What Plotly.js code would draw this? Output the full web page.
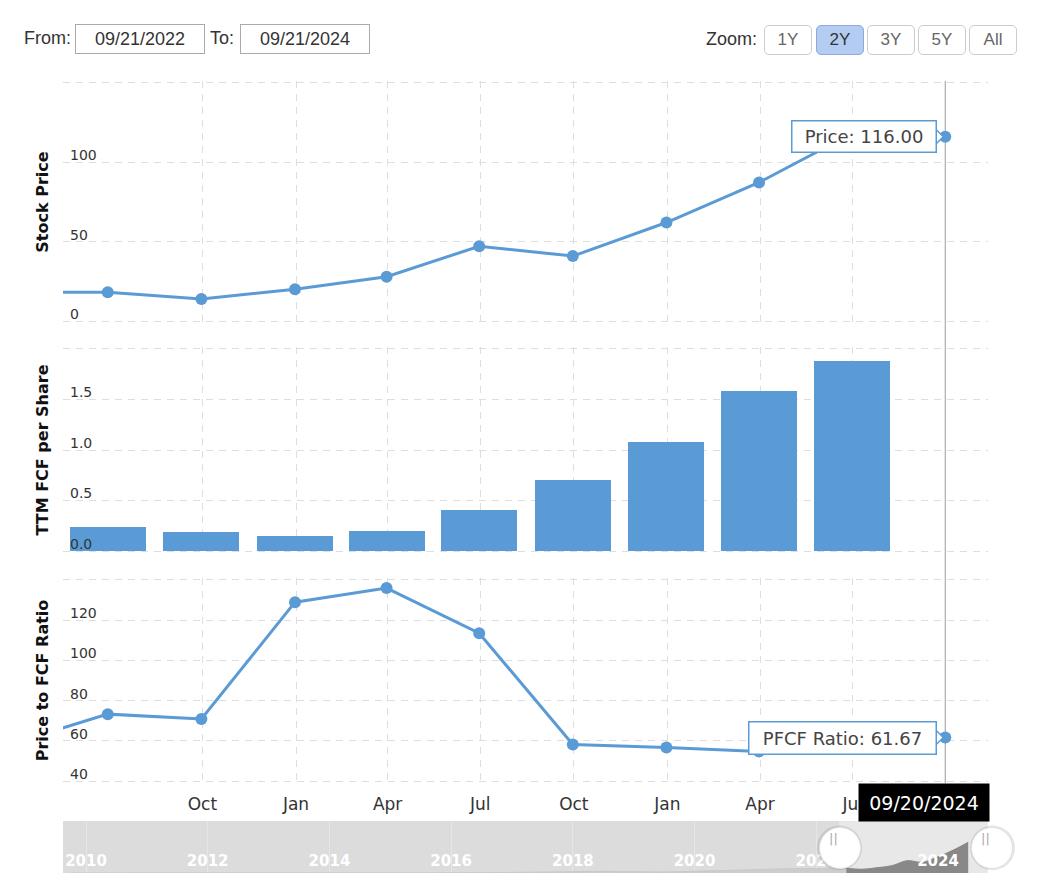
<!DOCTYPE html>
<html>
<head>
<meta charset="utf-8">
<script src="https://cdn.plot.ly/plotly-3.0.1.min.js"></script>
<style>
  body { margin: 0; background: #fff; }
  #wrap { position: relative; width: 1047px; height: 884px; overflow: hidden; font-family: "Liberation Sans", Arial, sans-serif; }
  #chart { position: absolute; left: 0; top: 0; width: 1047px; height: 884px; }
  .lbl { position: absolute; font-size: 18px; color: #333; line-height: 30px; }
  .inp { position: absolute; top: 24px; height: 28px; width: 128px; border: 1px solid #aaa; font-size: 18px; line-height: 28px; text-align: center; color: #333; background: #fff; }
  .btn { position: absolute; top: 25px; height: 28px; width: 46px; border: 1px solid #ccc; border-radius: 5px; font-size: 17px; line-height: 28px; text-align: center; color: #666; background: #fff; }
  .btn.sel { background: #b4cbf2; border-color: #8faad8; color: #333; }
</style>
</head>
<body>
<div id="wrap">
  <div id="chart"></div>
  <div class="lbl" style="left:24px;top:23px">From:</div>
  <div class="inp" style="left:75px">09/21/2022</div>
  <div class="lbl" style="left:210px;top:23px">To:</div>
  <div class="inp" style="left:240px">09/21/2024</div>
  <div class="lbl" style="left:706px;top:24px">Zoom:</div>
  <div class="btn" style="left:764px">1Y</div>
  <div class="btn sel" style="left:816px">2Y</div>
  <div class="btn" style="left:867px">3Y</div>
  <div class="btn" style="left:918px">5Y</div>
  <div class="btn" style="left:969px">All</div>
</div>
<script>
// ---- data ----
const dates = ['2022-03-31','2022-06-30','2022-09-30','2022-12-31','2023-03-31','2023-06-30','2023-09-30','2023-12-31','2024-03-31','2024-06-30','2024-09-30'];
const price = [18.2, 18.2, 14.0, 20.1, 28.0, 47.2, 41.0, 62.1, 87.3, 118.0, 116.0];
const pfcfRatio = [59.2, 73.3, 70.9, 128.9, 135.9, 113.5, 58.2, 56.7, 54.8, 62.6, 61.67];
const fcfDates = ['2022-03-31','2022-06-30','2022-09-30','2022-12-31','2023-03-31','2023-06-30','2023-09-30','2023-12-31','2024-03-31','2024-06-30'];
const fcfPerShare = [0.31, 0.24, 0.19, 0.153, 0.20, 0.41, 0.70, 1.083, 1.58, 1.884];
const lastDateLabel = '09/20/2024';

const tickDates = ['2022-10-01','2023-01-01','2023-04-01','2023-07-01','2023-10-01','2024-01-01','2024-04-01','2024-07-01'];
const tickLabels = ['Oct','Jan','Apr','Jul','Oct','Jan','Apr','Jul'];
const priceTicks = [0, 50, 100, 150];
const priceTickText = ['0', '50', '100', ''];
const fcfTicks = [0, 0.5, 1, 1.5, 2];
const fcfTickText = ['0.0', '0.5', '1.0', '1.5', ''];
const ratioTicks = [40, 60, 80, 100, 120, 140];
const ratioTickText = ['40', '60', '80', '100', '120', ''];

// navigator (long history)
const navDates = ['2009-09-30','2010-06-30','2011-06-30','2012-06-30','2013-06-30','2014-06-30','2015-06-30','2016-06-30','2017-06-30','2018-06-30','2019-06-30','2020-06-30','2021-06-30','2021-12-31','2022-03-31'];
const navPrice = [0.2, 0.2, 0.3, 0.3, 0.35, 0.45, 0.55, 1.2, 3.6, 6.2, 4.0, 9.5, 16, 17, 18.2];
const navYearTicks = ['2010-01-01','2012-01-01','2014-01-01','2016-01-01','2018-01-01','2020-01-01','2022-01-01','2024-01-01'];
const navYearLabels = ['2010','2012','2014','2016','2018','2020','2022','2024'];

// ---- styling ----
const BLUE = '#5b9bd5';
const FONT = 'DejaVu Sans, Verdana, sans-serif';
const xRange = ['2022-05-17', '2024-11-11'];
const navRange = ['2009-08-16', '2024-10-27'];
const lastIdx = dates.length - 1;
const lastDate = dates[lastIdx];

const dom1 = [0.6944, 1.0];
const dom2 = [0.40404, 0.66414];
const dom3 = [0.11364, 0.37247];
const domNav = [0, 0.06566];

// paper fraction of the selection start inside the navigator
const t0 = Date.parse(navRange[0]), t1 = Date.parse(navRange[1]);
const selStartPaper = (Date.parse(xRange[0]) - t0) / (t1 - t0);

const gridStyle = { showgrid: true, gridcolor: '#dedede', griddash: '7px,6px', gridwidth: 1, zeroline: false, showline: false };

function yAx(domain, range, tv, tt, title) {
  return Object.assign({}, gridStyle, {
    domain: domain, range: range, tickvals: tv, ticktext: tt, anchor: 'x',
    ticklabelposition: 'inside', ticklabeloverflow: 'allow', ticklabelshift: -7, ticklabelstandoff: 4,
    tickfont: { family: FONT, size: 14, color: '#333' }, ticks: '',
    automargin: false, fixedrange: true,
    title: { text: title, standoff: 17, font: { family: FONT, size: 16, color: '#111', weight: 'bold' } }
  });
}

const traces = [
  { x: dates, y: price, xaxis: 'x', yaxis: 'y', type: 'scatter', mode: 'lines+markers',
    line: { color: BLUE, width: 3 }, marker: { color: BLUE, size: 12 }, hoverinfo: 'skip' },
  { x: fcfDates, y: fcfPerShare, xaxis: 'x', yaxis: 'y2', type: 'bar',
    marker: { color: BLUE }, width: 74.7 * 86400000, hoverinfo: 'skip' },
  { x: dates, y: pfcfRatio, xaxis: 'x', yaxis: 'y3', type: 'scatter', mode: 'lines+markers',
    line: { color: BLUE, width: 3 }, marker: { color: BLUE, size: 12 }, hoverinfo: 'skip' },
  // navigator: full history (light) and selected range (dark)
  { x: navDates.concat(dates.slice(1, lastIdx)), y: navPrice.concat(price.slice(1, lastIdx)),
    xaxis: 'x2', yaxis: 'y4', type: 'scatter', mode: 'lines', fill: 'tozeroy',
    line: { color: '#c9c9c9', width: 1, shape: 'spline' }, fillcolor: '#cdcdcd', hoverinfo: 'skip' },
  { x: dates.slice(1, lastIdx), y: price.slice(1, lastIdx),
    xaxis: 'x2', yaxis: 'y4', type: 'scatter', mode: 'lines', fill: 'tozeroy',
    line: { color: '#888', width: 1, shape: 'spline' }, fillcolor: '#888', hoverinfo: 'skip' }
];

const layout = {
  width: 1047, height: 884,
  margin: { l: 63, r: 59, t: 81, b: 11 },
  paper_bgcolor: 'rgba(0,0,0,0)', plot_bgcolor: '#fff',
  showlegend: false,
  bargap: 0,
  xaxis: Object.assign({}, gridStyle, {
    domain: [0, 1], anchor: 'y3', type: 'date', range: xRange,
    tickvals: tickDates, ticktext: tickLabels, ticks: '', ticklabelstandoff: 9,
    tickfont: { family: FONT, size: 17, color: '#333' }, fixedrange: true
  }),
  yaxis: yAx(dom1, [-1.1, 151.1], priceTicks, priceTickText, 'Stock Price'),
  yaxis2: yAx(dom2, [-0.018, 2.018], fcfTicks, fcfTickText, 'TTM FCF per Share'),
  yaxis3: yAx(dom3, [39.1, 140.9], ratioTicks, ratioTickText, 'Price to FCF Ratio'),
  xaxis2: {
    domain: [0, 1], anchor: 'y4', type: 'date', range: navRange,
    tickvals: navYearTicks, ticktext: navYearLabels, ticks: '',
    ticklabelposition: 'inside', ticklabelstandoff: 1,
    tickfont: { family: FONT, size: 15, color: '#ffffff', weight: 'bold' },
    showgrid: true, gridcolor: '#e6e6e6', zeroline: false, showline: false, fixedrange: true
  },
  yaxis4: {
    domain: domNav, anchor: 'x2', range: [0, 200], showgrid: false, zeroline: false,
    showticklabels: false, showline: false, fixedrange: true
  },
  shapes: [
    // navigator background
    { type: 'rect', xref: 'x2 domain', yref: 'y4 domain', x0: 0, x1: 1, y0: 0, y1: 1,
      fillcolor: '#dcdcdc', line: { width: 0 }, layer: 'below' },
    // selected window in navigator
    { type: 'rect', xref: 'x2', yref: 'y4 domain', x0: xRange[0], x1: navRange[1], y0: 0, y1: 1,
      fillcolor: '#e8e8e8', line: { width: 0 }, layer: 'below' },
    // cursor line at latest date
    { type: 'line', xref: 'x', yref: 'paper', x0: lastDate, x1: lastDate, y0: dom3[0], y1: dom1[1],
      line: { color: '#9a9a9a', width: 1 }, layer: 'below' },
    // tooltip notches
    { type: 'path', xref: 'x', yref: 'y', xsizemode: 'pixel', ysizemode: 'pixel',
      xanchor: lastDate, yanchor: price[lastIdx], path: 'M -9,-7 L -2,0 L -9,7 Z',
      fillcolor: '#fff', line: { color: BLUE, width: 1.5 }, layer: 'above' },
    { type: 'path', xref: 'x', yref: 'y3', xsizemode: 'pixel', ysizemode: 'pixel',
      xanchor: lastDate, yanchor: pfcfRatio[lastIdx], path: 'M -9,-7 L -2,0 L -9,7 Z',
      fillcolor: '#fff', line: { color: BLUE, width: 1.5 }, layer: 'above' },
    // navigator handles (shadow + circle)
    { type: 'circle', xref: 'paper', yref: 'paper', xsizemode: 'pixel', xanchor: selStartPaper,
      x0: -22, x1: 23, y0: 0.0035, y1: 0.0600, fillcolor: 'rgba(0,0,0,0.10)', line: { width: 0 }, layer: 'above' },
    { type: 'circle', xref: 'paper', yref: 'paper', xsizemode: 'pixel', xanchor: selStartPaper,
      x0: -19.5, x1: 21.5, y0: 0.0057, y1: 0.0575, fillcolor: '#fff', line: { color: '#e2e2e2', width: 1 }, layer: 'above' },
    { type: 'circle', xref: 'paper', yref: 'paper', xsizemode: 'pixel', xanchor: 1,
      x0: -18, x1: 27, y0: 0.0035, y1: 0.0600, fillcolor: 'rgba(0,0,0,0.10)', line: { width: 0 }, layer: 'above' },
    { type: 'circle', xref: 'paper', yref: 'paper', xsizemode: 'pixel', xanchor: 1,
      x0: -16.5, x1: 24.5, y0: 0.0057, y1: 0.0575, fillcolor: '#fff', line: { color: '#e2e2e2', width: 1 }, layer: 'above' }
  ],
  annotations: [
    { xref: 'x', yref: 'y', x: lastDate, y: price[lastIdx], xanchor: 'right', yanchor: 'middle', xshift: -8,
      text: 'Price: ' + price[lastIdx].toFixed(2), showarrow: false,
      font: { family: FONT, size: 18, color: '#444' }, bgcolor: '#fff', bordercolor: BLUE,
      borderwidth: 1.5, borderpad: 6, width: 131, height: 18 },
    { xref: 'x', yref: 'y3', x: lastDate, y: pfcfRatio[lastIdx], xanchor: 'right', yanchor: 'middle', xshift: -8,
      text: 'PFCF Ratio: ' + pfcfRatio[lastIdx].toFixed(2), showarrow: false,
      font: { family: FONT, size: 18, color: '#444' }, bgcolor: '#fff', bordercolor: BLUE,
      borderwidth: 1.5, borderpad: 6, width: 174, height: 19 },
    { xref: 'paper', yref: 'paper', x: 1, y: dom3[0], xanchor: 'right', yanchor: 'top', xshift: 2,
      text: lastDateLabel, showarrow: false, font: { family: FONT, size: 19, color: '#fff' },
      bgcolor: '#000', borderpad: 5, width: 120, height: 27 },
    { xref: 'paper', yref: 'paper', x: selStartPaper, y: 0.0316, xshift: 1, text: '||', showarrow: false,
      font: { family: FONT, size: 13, color: '#aaa' } },
    { xref: 'paper', yref: 'paper', x: 1, y: 0.0316, xshift: 4, text: '||', showarrow: false,
      font: { family: FONT, size: 13, color: '#aaa' } }
  ]
};

Plotly.newPlot('chart', traces, layout, { displayModeBar: false, staticPlot: true });
</script>
</body>
</html>
